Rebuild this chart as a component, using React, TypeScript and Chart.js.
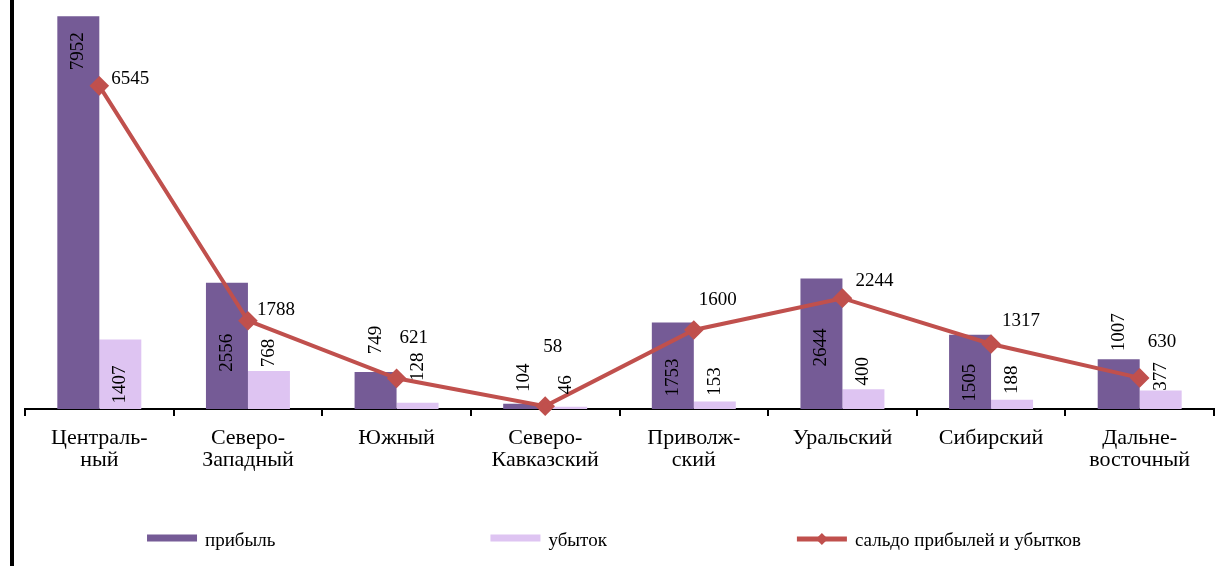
import React, { useEffect, useRef } from "react";
import { Chart, registerables } from "chart.js";

Chart.register(...registerables);

const categories: string[][] = [
  ["Централь-", "ный"],
  ["Северо-", "Западный"],
  ["Южный"],
  ["Северо-", "Кавказский"],
  ["Приволж-", "ский"],
  ["Уральский"],
  ["Сибирский"],
  ["Дальне-", "восточный"],
];
const profit = [7952, 2556, 749, 104, 1753, 2644, 1505, 1007];
const loss = [1407, 768, 128, 46, 153, 400, 188, 377];
const balance = [6545, 1788, 621, 58, 1600, 2244, 1317, 630];

// label placement (styling): vertical offset of label centre from bar top, px
const profitLabelDy = [35, 70, -32, -26, 55, 69, 48, -27];
const lossLabelDy = [45, -18, -36, -22, -20, -18, -20, -14];
// line label offsets from point (left edge / vertical centre)
const balanceLabelDx = [12, 9, 3, -2, 5, 13, 11, 8];
const balanceLabelDy = [-7, -11, -40, -59, -30, -17, -23, -36];

const PROFIT_COLOR = "rgb(117,91,150)";
const LOSS_COLOR = "rgb(222,196,242)";
const LINE_COLOR = "#C0504D";
const FONT = "'Liberation Serif', 'Times New Roman', serif";

// legend layout (styling)
const LEGEND_CENTER_X = 614;
const LEGEND_Y = 539;
const LEGEND_GAPS = [215, 190];
const LEGEND_BOX_W = 50;
const LEGEND_BOX_H = 7;
const LEGEND_TEXT_GAP = 8;

const labelPlugin = {
  id: "customLabels",
  beforeDraw(chart: any) {
    const ctx = chart.ctx;
    ctx.save();
    ctx.fillStyle = "#000";
    ctx.fillRect(10, 0, 4, chart.height);
    ctx.restore();
  },
  afterDatasetsDraw(chart: any) {
    const ctx = chart.ctx;
    ctx.save();
    ctx.font = `19px ${FONT}`;
    ctx.fillStyle = "#000";
    const offs = [profitLabelDy, lossLabelDy];
    [0, 1].forEach((di) => {
      const meta = chart.getDatasetMeta(di);
      const vals = chart.data.datasets[di].data;
      meta.data.forEach((bar: any, i: number) => {
        ctx.save();
        ctx.translate(bar.x, bar.y + offs[di][i]);
        ctx.rotate(-Math.PI / 2);
        ctx.textAlign = "center";
        ctx.textBaseline = "middle";
        ctx.fillText(String(vals[i]), 0, 0);
        ctx.restore();
      });
    });
    const lm = chart.getDatasetMeta(2);
    const lv = chart.data.datasets[2].data;
    ctx.textAlign = "left";
    ctx.textBaseline = "middle";
    lm.data.forEach((pt: any, i: number) => {
      ctx.fillText(String(lv[i]), pt.x + balanceLabelDx[i], pt.y + balanceLabelDy[i]);
    });
    ctx.restore();
  },
  afterDraw(chart: any) {
    const ctx = chart.ctx;
    ctx.save();
    ctx.font = `19px ${FONT}`;
    const ds = chart.data.datasets;
    const widths = ds.map((d: any) => LEGEND_BOX_W + LEGEND_TEXT_GAP + ctx.measureText(d.label).width);
    const total = widths.reduce((a: number, b: number) => a + b, 0) + LEGEND_GAPS[0] + LEGEND_GAPS[1];
    let x = LEGEND_CENTER_X - total / 2;
    ds.forEach((d: any, i: number) => {
      const isLine = d.type === "line";
      ctx.fillStyle = isLine ? LINE_COLOR : d.backgroundColor;
      if (isLine) {
        ctx.fillRect(x, LEGEND_Y - 2.5, LEGEND_BOX_W, 5);
        const cx = x + LEGEND_BOX_W / 2;
        const r = 6;
        ctx.beginPath();
        ctx.moveTo(cx, LEGEND_Y - r);
        ctx.lineTo(cx + r, LEGEND_Y);
        ctx.lineTo(cx, LEGEND_Y + r);
        ctx.lineTo(cx - r, LEGEND_Y);
        ctx.closePath();
        ctx.fill();
      } else {
        ctx.fillRect(x, LEGEND_Y - LEGEND_BOX_H / 2 - 1, LEGEND_BOX_W, LEGEND_BOX_H);
      }
      ctx.fillStyle = "#000";
      ctx.textAlign = "left";
      ctx.textBaseline = "middle";
      ctx.fillText(d.label, x + LEGEND_BOX_W + LEGEND_TEXT_GAP, LEGEND_Y + 2);
      x += widths[i] + (LEGEND_GAPS[i] || 0);
    });
    ctx.restore();
  },
};

export default function App() {
  const ref = useRef<HTMLCanvasElement>(null);
  useEffect(() => {
    if (!ref.current) return;
    const chart = new Chart(ref.current, {
      type: "bar",
      data: {
        labels: categories,
        datasets: [
          {
            label: "прибыль",
            data: profit,
            backgroundColor: PROFIT_COLOR,
            borderWidth: 0,
            categoryPercentage: 0.565,
            barPercentage: 1,
            order: 1,
          },
          {
            label: "убыток",
            data: loss,
            backgroundColor: LOSS_COLOR,
            borderWidth: 0,
            categoryPercentage: 0.565,
            barPercentage: 1,
            order: 1,
          },
          {
            type: "line",
            label: "сальдо прибылей и убытков",
            data: balance,
            borderColor: LINE_COLOR,
            backgroundColor: LINE_COLOR,
            borderWidth: 4,
            pointStyle: "rectRot",
            pointRadius: 7,
            pointHoverRadius: 7,
            tension: 0,
            clip: false,
            order: 0,
          } as any,
        ],
      },
      options: {
        animation: false,
        responsive: false,
        maintainAspectRatio: false,
        layout: { autoPadding: false, padding: { left: 25, right: 2, top: 14, bottom: 0 } },
        scales: {
          x: {
            offset: true,
            afterFit: (scale: any) => {
              scale.height = 157;
            },
            grid: {
              offset: true,
              display: true,
              drawOnChartArea: false,
              drawTicks: true,
              tickLength: 7,
              color: "#000",
              lineWidth: 2,
            },
            border: { display: true, color: "#000", width: 2 },
            ticks: {
              autoSkip: false,
              maxRotation: 0,
              color: "#000",
              padding: 11,
              font: { family: FONT, size: 22, lineHeight: 1.0 },
            },
          },
          y: {
            display: false,
            min: 0,
            max: 8000,
          },
        },
        plugins: {
          tooltip: { enabled: false },
          legend: { display: false },
        },
      },
      plugins: [labelPlugin],
    });
    return () => chart.destroy();
  }, []);
  return (
    <div style={{ position: "fixed", left: 0, top: 0, width: 1216, height: 566, background: "#fff" }}>
      <canvas ref={ref} width={1216} height={566} style={{ width: 1216, height: 566, display: "block" }} />
    </div>
  );
}
